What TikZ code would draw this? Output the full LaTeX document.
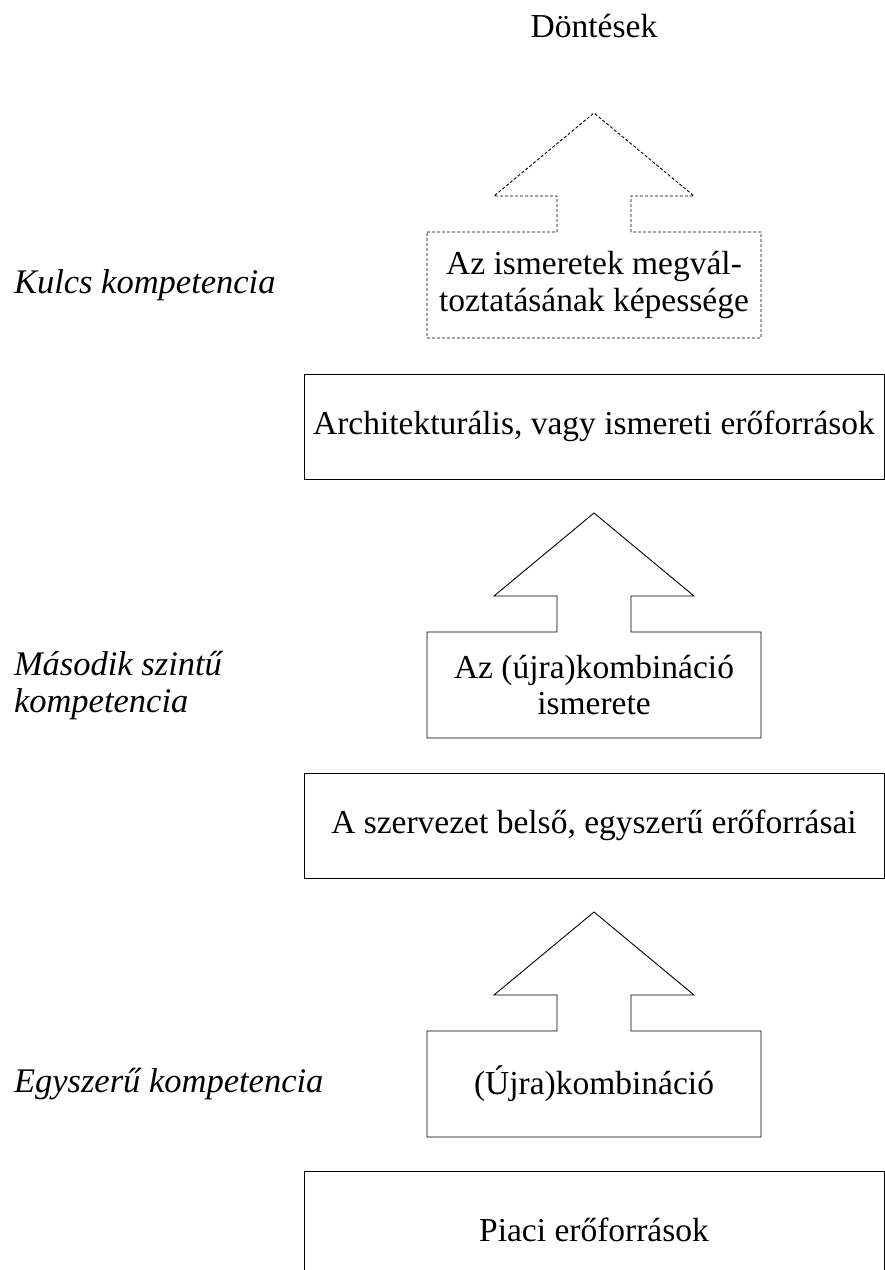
\documentclass[tikz,border=0pt]{standalone}
\usepackage{fontspec}
\setmainfont{Liberation Serif}
\usetikzlibrary{positioning}

\begin{document}
\begin{tikzpicture}[
    x=1pt, y=1pt,
    node distance=36pt,
    txt/.style={font=\fontsize{33.5}{36.5}\selectfont, inner sep=0pt,
                outer sep=0pt, align=center},
    smallbox/.style={txt, minimum width=334pt, minimum height=106pt},
    widebox/.style={txt, draw, line width=1pt, minimum width=580pt,
                    minimum height=105pt},
    side/.style={txt, font=\fontsize{34.5}{37}\selectfont\itshape,
                 align=left, anchor=west},
    outline/.style={line width=0.9pt, line join=miter},
    dashbox/.style={dash pattern=on 3pt off 2pt},
  ]
  \useasboundingbox (0,0) rectangle (885,-1270);
  \coordinate (lx) at (14,0);

  % levels, top to bottom
  \node[smallbox] (k) at (594,-285) {Az ismeretek megvál-\\toztatásának képessége};
  \node[widebox, below=of k] (w1) {Architekturális, vagy ismereti erőforrások};
  \node[smallbox, below=153pt of w1] (m) {Az (újra)kombináció\\ismerete};
  \node[widebox, below=35pt of m] (w2) {A szervezet belső, egyszerű erőforrásai};
  \node[smallbox, below=153pt of w2] (e) {(Újra)kombináció};
  \node[widebox, below=34pt of e, minimum height=118pt] (p) {Piaci erőforrások};

  \node[txt] (dont) at ([yshift=259pt]k.center) {Döntések};

  % side labels
  \node[side] (lk) at (lx |- k) {Kulcs kompetencia};
  \node[side] (lm) at (lx |- m) {Második szintű\\kompetencia};
  \node[side] (le) at (lx |- e) {Egyszerű kompetencia};

  % box + upward arrow outlines
  \foreach \b/\s in {k/dashbox, m/solid, e/solid} {
    \draw[outline, \s] (\b.north west) -- ([xshift=-37pt]\b.north) -- ++(0,36)
      -- ++(-63,0) -- ([yshift=119pt]\b.north)
      -- ([xshift=100pt, yshift=36pt]\b.north) -- ++(-63,0) -- ++(0,-36)
      -- (\b.north east) |- (\b.south west) -- cycle;
  }
\end{tikzpicture}
\end{document}
